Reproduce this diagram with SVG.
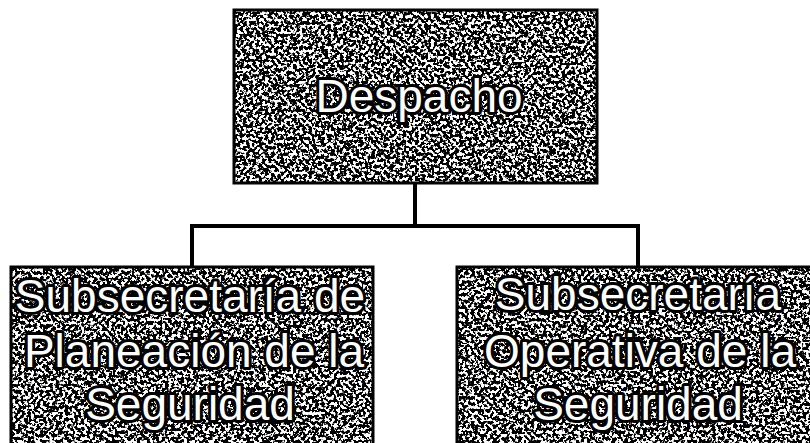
<svg xmlns="http://www.w3.org/2000/svg" width="810" height="443" viewBox="0 0 810 443">
<style>
.box{fill:#fff;}
.noise{fill:#fff;filter:url(#noise);}
.frame{fill:none;stroke:#000;stroke-width:3;}
.lbl{font-family:"Liberation Sans","Open Sans",sans-serif;font-size:46px;fill:#fff;stroke:#000;stroke-width:6;paint-order:stroke;stroke-linejoin:round;text-anchor:middle;}
.conn{fill:none;stroke:#000;stroke-width:4;}
</style>
<defs>
<filter id="noise" x="0" y="0" width="1" height="1" filterUnits="objectBoundingBox">
<feTurbulence type="fractalNoise" baseFrequency="0.32" numOctaves="2" seed="7" result="t"/>
<feColorMatrix in="t" type="matrix" values="0 0 0 0 0  0 0 0 0 0  0 0 0 0 0  16 0 0 0 -7.2" result="m"/>
<feComposite in="m" in2="SourceGraphic" operator="in"/>
</filter>
</defs>
<g id="connectors">
<path class="conn" d="M415 183 V226 M192 226 H638 M192 224 V267 M638 224 V267"/>
</g>
<g id="despacho">
<rect class="box" x="234" y="10" width="363" height="173"/>
<rect class="noise" x="234" y="10" width="363" height="173"/>
<rect class="frame" x="234" y="10" width="363" height="173"/>
<text class="lbl" x="419" y="112">Despacho</text>
</g>
<g id="planeacion">
<rect class="box" x="11" y="267" width="362" height="180"/>
<rect class="noise" x="11" y="267" width="362" height="180"/>
<rect class="frame" x="11" y="267" width="362" height="180"/>
<text class="lbl" x="190" y="312">Subsecretaría de</text>
<text class="lbl" x="194" y="367">Planeación de la</text>
<text class="lbl" x="190" y="420">Seguridad</text>
</g>
<g id="operativa">
<rect class="box" x="457" y="267" width="360" height="180"/>
<rect class="noise" x="457" y="267" width="360" height="180"/>
<rect class="frame" x="457" y="267" width="360" height="180"/>
<text class="lbl" x="638" y="310">Subsecretaría</text>
<text class="lbl" x="640" y="367">Operativa de la</text>
<text class="lbl" x="638" y="420">Seguridad</text>
</g>
</svg>
